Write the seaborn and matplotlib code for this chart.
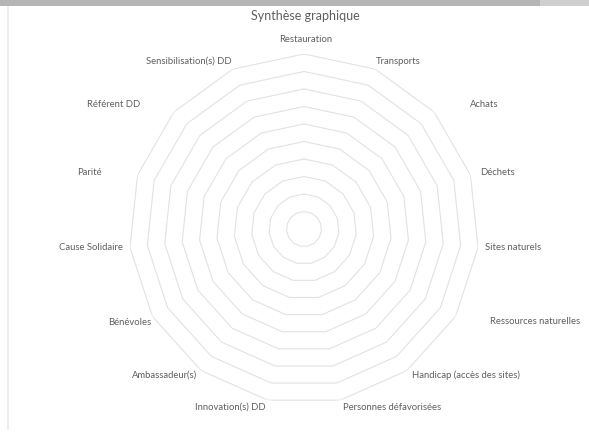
import numpy as np
import pandas as pd
import matplotlib
matplotlib.use("Agg")
import matplotlib.pyplot as plt
from matplotlib.patches import Rectangle
import seaborn as sns

TITLE = "Synthèse graphique"
CATEGORIES = ["Restauration", "Transports", "Achats", "Déchets", "Sites naturels",
              "Ressources naturelles", "Handicap (accès des sites)", "Personnes défavorisées",
              "Innovation(s) DD", "Ambassadeur(s)", "Bénévoles", "Cause Solidaire",
              "Parité", "Référent DD", "Sensibilisation(s) DD"]
VALUES = [None, None, None, None, None, None, None, None,
          None, None, None, None, None, None, None]
RINGS = [1, 2, 3, 4, 5, 6, 7, 8, 9, 10]

# label layout (pixels): alignment, dx, dy(down)
LABEL_LAYOUT = [("center", 2, -14), ("left", 1, -8), ("left", 36, -7), ("left", 10, -2),
                ("left", 7, 0), ("left", 34, 5.5), ("left", 5, 5), ("left", 3, 7),
                ("right", -2, 7), ("right", -4, 5), ("right", -1, 5.5), ("right", -7, 0),
                ("right", -36, -2), ("right", -34, -7), ("right", -1, -8)]

sns.set_theme(style="white")
plt.rcParams["font.family"] = ["Lato", "DejaVu Sans"]

W, H, DPI = 589, 432, 100
fig = plt.figure(figsize=(W / DPI, H / DPI), dpi=DPI)
fig.patch.set_facecolor("white")

# frame decorations (screenshot border)
fig.patches.append(Rectangle((0, 1 - 6 / H), 1, 6 / H, transform=fig.transFigure,
                             facecolor="#b5b5b5", edgecolor="none", zorder=0))
fig.patches.append(Rectangle((540 / W, 1 - 6 / H), 49 / W, 6 / H, transform=fig.transFigure,
                             facecolor="#cfcfcf", edgecolor="none", zorder=0))
fig.patches.append(Rectangle((7 / W, 2 / H), 2 / W, 1 - 8 / H, transform=fig.transFigure,
                             facecolor="#ededed", edgecolor="none", zorder=0))

cx, cy, R = 304, 229, 175
ax = fig.add_axes([(cx - R) / W, (H - cy - R) / H, 2 * R / W, 2 * R / H], polar=True)
ax.set_theta_offset(np.pi / 2)
ax.set_theta_direction(-1)
ax.set_ylim(0, max(RINGS))
ax.grid(False)
ax.spines["polar"].set_visible(False)
ax.set_xticks([])
ax.set_yticks([])
ax.patch.set_alpha(0)

n = len(CATEGORIES)
angles = np.linspace(0, 2 * np.pi, n, endpoint=False)
closed = np.append(angles, angles[0])
for r in RINGS:
    ax.plot(closed, [r] * (n + 1), color="#e2e2e2", lw=0.8, zorder=1)

df = pd.DataFrame({"angle": angles, "value": pd.to_numeric(pd.Series(VALUES), errors="coerce")})
sns.lineplot(data=df.dropna(), x="angle", y="value", ax=ax, color="#4472c4", lw=2)
ax.set_xlabel("")
ax.set_ylabel("")

for ang, lab, (ha, dx, dy) in zip(angles, CATEGORIES, LABEL_LAYOUT):
    ax.annotate(lab, xy=(ang, max(RINGS)), xytext=(dx * 0.72, -dy * 0.72),
                textcoords="offset points", ha=ha, va="center",
                fontsize=6.8, color="#5f5f5f")

fig.text(305 / W, 1 - 16 / H, TITLE, ha="center", va="center", fontsize=9, color="#5f5f5f")

fig.savefig("out.png", dpi=DPI)
